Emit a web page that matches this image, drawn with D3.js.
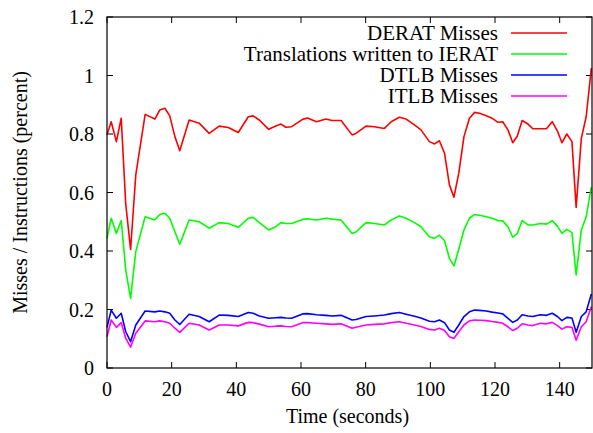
<!DOCTYPE html>
<html>
<head>
<meta charset="utf-8">
<script src="https://cdn.jsdelivr.net/npm/d3@7"></script>
<style>
  body { margin: 0; background: #fff; }
  text { font-family: "Liberation Serif", "DejaVu Serif", serif; fill: #000; }
</style>
</head>
<body>
<div id="plot-container"></div>
<script>
// Time samples (seconds)
const times = [0, 1.3, 2.9, 4.4, 5.8, 7.3, 8.9, 11.8, 14.8, 16.3, 17.9, 19.4, 21, 22.5, 25.4, 28.5, 31.6, 34.7, 37.5, 40.6,
  43.7, 45.2, 47.1, 50, 52.2, 53.8, 55.3, 57.1, 60.5, 62, 64.8, 67.7, 69.6, 72.4, 75.8, 77, 80.1, 82.7, 85.8, 87.9,
  90.4, 92.5, 95.1, 97.1, 99.7, 101.3, 102.8, 104.4, 105.9, 107.3, 108.8, 110.4, 112.1, 113.7, 115.2, 117.3, 119.1, 120.9, 122.4, 124,
  125.5, 126.9, 128.4, 130.2, 131.7, 134, 135.9, 137.7, 139.3, 140.7, 142.2, 143.8, 145.1, 146.7, 148.2, 149.8];

const deratMisses = [.797, .842, .774, .854, .56, .405, .66, .867, .851, .882, .888, .862, .791, .743, .848, .837, .802, .827, .822, .805,
  .859, .862, .848, .816, .827, .834, .823, .825, .850, .855, .842, .851, .846, .846, .797, .802, .827, .825, .819, .842,
  .857, .851, .831, .814, .774, .766, .777, .734, .626, .584, .666, .791, .854, .874, .871, .862, .854, .840, .842, .814,
  .770, .793, .846, .834, .818, .818, .818, .842, .810, .770, .800, .774, .549, .785, .859, 1.025];

const ieratWrites = [.443, .512, .460, .504, .335, .238, .398, .517, .506, .525, .529, .512, .466, .423, .506, .500, .478, .497, .494, .481,
  .512, .515, .497, .472, .483, .497, .494, .494, .508, .510, .506, .512, .509, .506, .460, .465, .497, .494, .489, .506,
  .520, .512, .497, .483, .449, .443, .454, .435, .375, .349, .406, .472, .512, .525, .522, .517, .512, .504, .503, .483,
  .447, .460, .504, .489, .489, .494, .492, .504, .485, .460, .474, .463, .318, .472, .517, .618];

const dtlbMisses = [.139, .198, .170, .187, .124, .090, .147, .195, .192, .195, .192, .187, .164, .149, .184, .176, .158, .181, .180, .176,
  .190, .187, .178, .170, .172, .173, .171, .170, .185, .186, .182, .180, .178, .180, .164, .166, .176, .178, .181, .186,
  .190, .184, .177, .171, .160, .158, .164, .155, .130, .122, .147, .176, .192, .198, .197, .195, .191, .188, .185, .170,
  .156, .164, .182, .178, .176, .182, .180, .187, .176, .162, .173, .171, .122, .176, .192, .253];

const itlbMisses = [.107, .164, .139, .155, .101, .071, .119, .161, .158, .161, .158, .153, .136, .122, .153, .147, .130, .147, .147, .144,
  .156, .155, .150, .141, .143, .144, .142, .141, .155, .155, .153, .151, .149, .151, .136, .139, .147, .149, .151, .155,
  .158, .153, .147, .142, .132, .130, .136, .128, .107, .101, .124, .147, .161, .164, .163, .162, .159, .156, .153, .141,
  .128, .136, .151, .147, .145, .153, .151, .156, .145, .133, .141, .139, .095, .141, .158, .210];

const seriesNames = ["DERAT Misses", "Translations written to IERAT", "DTLB Misses", "ITLB Misses"];
const seriesColors = ["#ff0000", "#00ff00", "#0000ff", "#ff00ff"];
const seriesValues = [deratMisses, ieratWrites, dtlbMisses, itlbMisses];

const xTicks = [0, 20, 40, 60, 80, 100, 120, 140];
const yTicks = [0, 0.2, 0.4, 0.6, 0.8, 1, 1.2];

const W = 593, H = 433;
const margin = { top: 17, right: 1, bottom: 65, left: 107 };
const width = W - margin.left - margin.right;
const height = H - margin.top - margin.bottom;

const svg = d3.select("#plot-container")
    .append("svg")
    .attr("width", W)
    .attr("height", H);

const g = svg.append("g")
    .attr("transform", `translate(${margin.left},${margin.top})`);

const x = d3.scaleLinear().domain([0, 150]).range([0, width]);
const y = d3.scaleLinear().domain([0, 1.2]).range([height, 0]);

const tickLen = 6;
const fontSize = 20;

// ticks on all four sides, pointing inward
g.selectAll(".xtick-b").data(xTicks).enter().append("line")
    .attr("x1", d => x(d)).attr("x2", d => x(d))
    .attr("y1", height).attr("y2", height - tickLen)
    .attr("stroke", "#000");
g.selectAll(".xtick-t").data(xTicks).enter().append("line")
    .attr("x1", d => x(d)).attr("x2", d => x(d))
    .attr("y1", 0).attr("y2", tickLen)
    .attr("stroke", "#000");
g.selectAll(".ytick-l").data(yTicks).enter().append("line")
    .attr("x1", 0).attr("x2", tickLen)
    .attr("y1", d => y(d)).attr("y2", d => y(d))
    .attr("stroke", "#000");
g.selectAll(".ytick-r").data(yTicks).enter().append("line")
    .attr("x1", width).attr("x2", width - tickLen)
    .attr("y1", d => y(d)).attr("y2", d => y(d))
    .attr("stroke", "#000");

// tick labels
g.selectAll(".xlab").data(xTicks).enter().append("text")
    .attr("x", d => x(d))
    .attr("y", height + 28)
    .attr("text-anchor", "middle")
    .style("font-size", fontSize + "px")
    .text(d => d);
g.selectAll(".ylab").data(yTicks).enter().append("text")
    .attr("x", -13)
    .attr("y", d => y(d) + 7)
    .attr("text-anchor", "end")
    .style("font-size", fontSize + "px")
    .text(d => d3.format("")(+d.toFixed(1)));

// lines
const line = d3.line()
    .x((d, i) => x(times[i]))
    .y(d => y(d));

seriesValues.forEach((vals, k) => {
    g.append("path")
        .datum(vals)
        .attr("fill", "none")
        .attr("stroke", seriesColors[k])
        .attr("stroke-width", 1.6)
        .attr("stroke-linejoin", "round")
        .attr("d", line);
});

// frame
g.append("rect")
    .attr("x", 0).attr("y", 0)
    .attr("width", width).attr("height", height)
    .attr("fill", "none")
    .attr("stroke", "#000")
    .attr("stroke-width", 1.2);

// legend
const legend = g.append("g").attr("transform", `translate(${391},${16})`);
seriesNames.forEach((name, k) => {
    const row = legend.append("g").attr("transform", `translate(0,${k * 21})`);
    row.append("text")
        .attr("x", 0).attr("y", 7)
        .attr("text-anchor", "end")
        .style("font-size", "21px")
        .text(name);
    row.append("line")
        .attr("x1", 13).attr("x2", 69)
        .attr("y1", 0).attr("y2", 0)
        .attr("stroke", seriesColors[k])
        .attr("stroke-width", 1.6);
});

// axis labels
svg.append("text")
    .attr("x", margin.left + width / 2 - 2)
    .attr("y", H - 10)
    .attr("text-anchor", "middle")
    .style("font-size", fontSize + "px")
    .text("Time (seconds)");

svg.append("text")
    .attr("transform", `translate(27,${margin.top + height / 2}) rotate(-90)`)
    .attr("text-anchor", "middle")
    .style("font-size", fontSize + "px")
    .text("Misses / Instructions (percent)");
</script>
</body>
</html>
